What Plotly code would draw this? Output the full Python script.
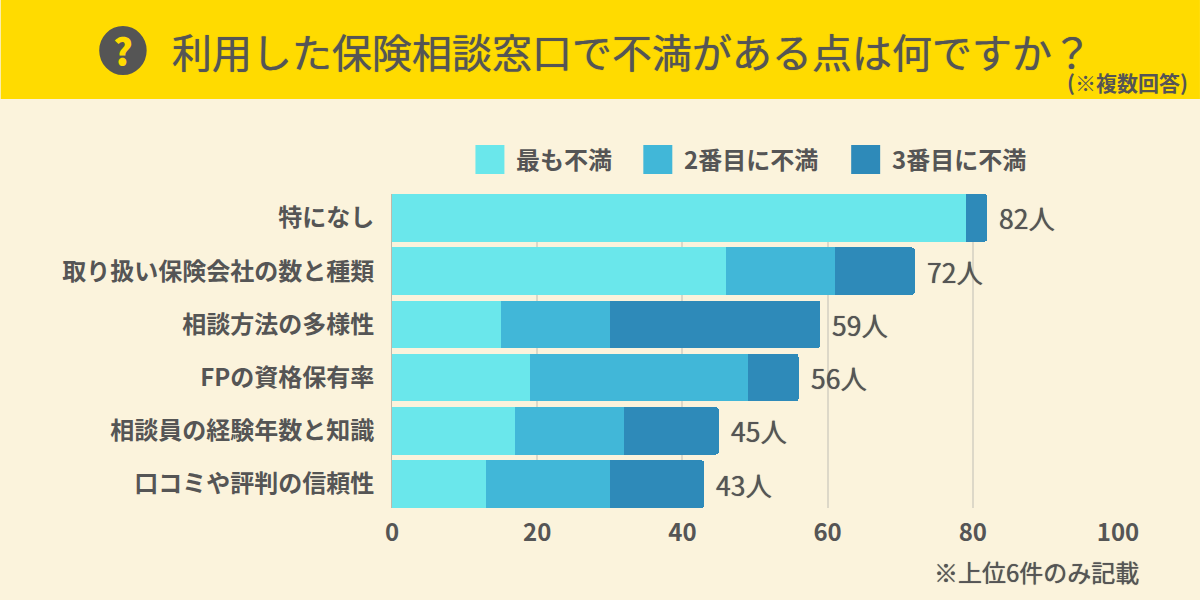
import plotly.graph_objects as go

categories = ["特になし", "取り扱い保険会社の数と種類", "相談方法の多様性", "FPの資格保有率", "相談員の経験年数と知識", "口コミや評判の信頼性"]
first = [79, 46, 15, 19, 17, 13]
second = [0, 15, 15, 30, 15, 17]
third = [3, 11, 29, 7, 13, 13]
totals = [82, 72, 59, 56, 45, 43]
series_names = ["最も不満", "2番目に不満", "3番目に不満"]
colors = ["#6AE7EB", "#41B7D8", "#2E8AB9"]
title_text = "利用した保険相談窓口で不満がある点は何ですか？"
sub_text = "(※複数回答)"
note_text = "※上位6件のみ記載"

FONT = "Noto Sans CJK JP"
INK = "#555555"
W, H = 1200, 600
L, R, T, B = 391.5, 82, 194, 92
PW, PH = W - L - R, H - T - B
THICK = "0 0 0.8px #555555"

fig = go.Figure()
for name, vals, c in zip(series_names, [first, second, third], colors):
    fig.add_bar(y=categories, x=vals, name=name, orientation="h", marker=dict(color=c, line=dict(width=0)), showlegend=False)

anns = []
for cat, t in zip(categories, totals):
    anns.append(dict(x=t, y=cat, xref="x", yref="y", text=f"{t}人", showarrow=False, xanchor="left", xshift=10,
                     font=dict(family=FONT, size=26.5, color=INK, weight=400, shadow=THICK)))

def px(x): return (x - L) / PW
def py(y): return (H - B - y) / PH

def text(x, y, s, size, anchor="left", weight=700, color=INK, shadow="none"):
    anns.append(dict(x=px(x), y=py(y), xref="paper", yref="paper", text=s, showarrow=False, xanchor=anchor, yanchor="middle",
                     font=dict(family=FONT, size=size, color=color, weight=weight, shadow=shadow)))

text(169, 51, title_text, 40, weight=400, shadow=THICK)
text(1190, 82, sub_text, 21, anchor="right")
text(1141, 571, note_text, 24, anchor="right", weight=400, shadow=THICK)
text(122.5, 50, "?", 37, anchor="center", weight=900, color="#FFDB00")

shapes = [
    dict(type="rect", xref="paper", yref="paper", x0=px(0), x1=px(W), y0=py(99), y1=py(0), fillcolor="#FFDB00", line_width=0, layer="below"),
    dict(type="circle", xref="paper", yref="paper", x0=px(98.5), x1=px(146), y0=py(75), y1=py(26), fillcolor=INK, line_width=0, layer="below"),
]
for sx, tx, c, name in zip([475, 643, 851], [514, 682, 890], colors, series_names):
    shapes.append(dict(type="rect", xref="paper", yref="paper", x0=px(sx), x1=px(sx + 29), y0=py(174), y1=py(145), fillcolor=c, line_width=0))
    text(tx, 159, name, 24)

fig.update_layout(
    width=W, height=H, autosize=False,
    barmode="stack", bargap=0.11, barcornerradius=3,
    paper_bgcolor="#FBF3DC", plot_bgcolor="#FBF3DC",
    margin=dict(l=L, r=R, t=T, b=B, pad=0),
    shapes=shapes, annotations=anns,
    font=dict(family=FONT, color=INK),
    xaxis=dict(range=[0, 100], tickvals=[0, 20, 40, 60, 80, 100], showgrid=True, gridcolor="#DDD8C8", gridwidth=2,
               zeroline=False, showline=False, ticks="", ticklabelstandoff=8, tickfont=dict(family=FONT, size=24, color=INK, weight=700)),
    yaxis=dict(range=[5.45, -0.45], categoryorder="array", categoryarray=categories, showgrid=False, zeroline=False,
               showline=True, linecolor="#BDB9AA", linewidth=1, ticks="", ticklabelstandoff=12,
               tickfont=dict(family=FONT, size=24, color=INK, weight=700)),
)
fig.write_html("out.html", config={"displayModeBar": False},
               post_script="document.body.style.margin='0';document.body.style.overflow='hidden';")
